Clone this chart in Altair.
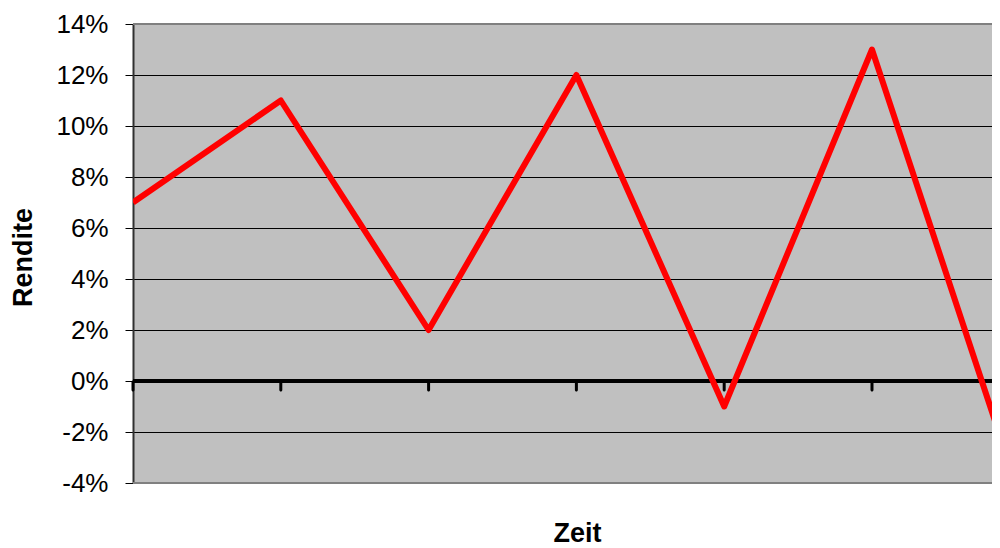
import altair as alt
import pandas as pd

periods = [0, 1, 2, 3, 4, 5, 6]
rendite = [7, 11, 2, 12, -1, 13, -4.5]
y_ticks = [-4, -2, 0, 2, 4, 6, 8, 10, 12, 14]
tick_positions = [0, 1, 2, 3, 4, 5]
border_values = [-4, 14]

df = pd.DataFrame({"Zeit": periods, "Rendite": rendite})
ticks_df = pd.DataFrame({"Zeit": tick_positions, "Rendite": [0] * len(tick_positions)})
border_df = pd.DataFrame({"Rendite": border_values})

FONT = "Liberation Sans"

xscale = alt.Scale(domain=[0, 5.812], nice=False, zero=False)
yscale = alt.Scale(domain=[-4, 14], nice=False)

yaxis = alt.Axis(
    values=y_ticks,
    labelExpr="datum.value + '%'",
    labelFont=FONT, labelFontSize=26, labelColor="black", labelPadding=17,
    tickSize=8, tickColor="black", tickWidth=1,
    domainColor="#303030", domainWidth=2,
    grid=True, gridColor="black", gridWidth=1,
    title="Rendite", titleFont=FONT, titleFontSize=27, titleFontWeight="bold",
    titleColor="black", titleAngle=270, titleX=-110, titleY=233,
    titleAlign="center", titleBaseline="middle",
)
xaxis = alt.Axis(
    domain=False, ticks=False, labels=False, grid=False,
    title="Zeit", titleFont=FONT, titleFontSize=27, titleFontWeight="bold",
    titleColor="black", titleX=444, titleY=58, titleAlign="center",
    titleBaseline="alphabetic",
)

base_line = alt.Chart(df).mark_line(color="#FF0000", strokeWidth=6, clip=True,
                                    strokeJoin="round").encode(
    x=alt.X("Zeit:Q", scale=xscale, axis=xaxis),
    y=alt.Y("Rendite:Q", scale=yscale, axis=yaxis),
)

borders = alt.Chart(border_df).mark_rule(color="#808080", strokeWidth=2).encode(
    y=alt.Y("Rendite:Q", scale=yscale),
)

zero_line = alt.Chart(pd.DataFrame({"Rendite": [0]})).mark_rule(
    color="black", strokeWidth=4).encode(
    y=alt.Y("Rendite:Q", scale=yscale),
)

cat_ticks = alt.Chart(ticks_df).mark_tick(
    color="black", thickness=3, size=11, yOffset=5, cornerRadius=1.5, opacity=1).encode(
    x=alt.X("Zeit:Q", scale=xscale),
    y=alt.Y("Rendite:Q", scale=yscale),
)

chart = alt.layer(borders, zero_line, cat_ticks, base_line).properties(
    width=859, height=459,
    autosize=alt.AutoSizeParams(type="none"),
    padding={"left": 125, "top": 16, "right": 0, "bottom": 66},
).configure_view(fill="#C0C0C0", stroke=None)

chart.save("out.html", embed_options={"renderer": "svg", "actions": False})
